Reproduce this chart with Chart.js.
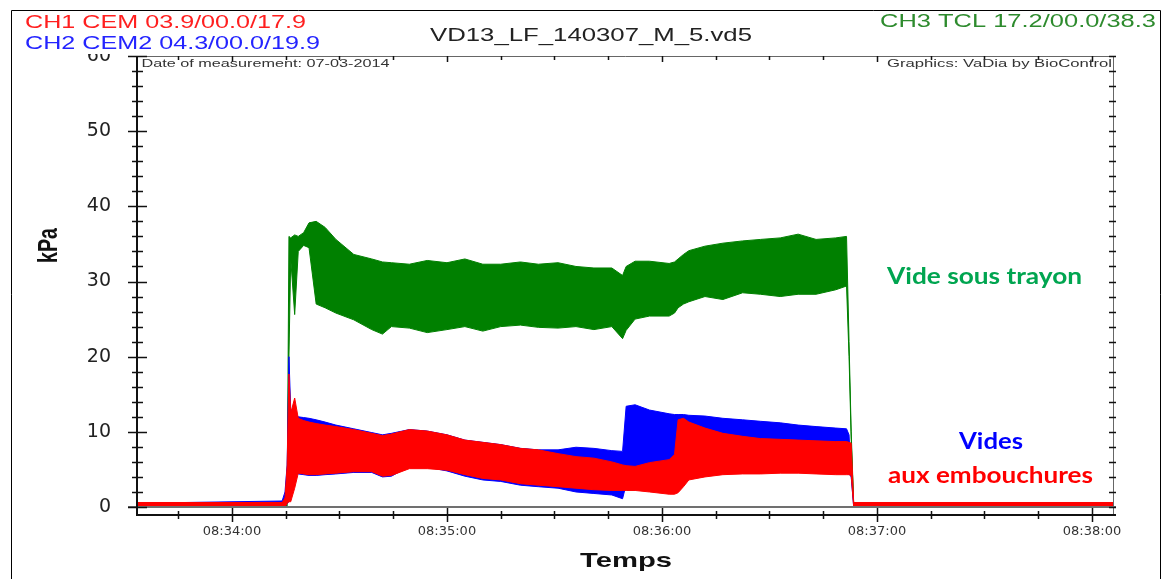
<!DOCTYPE html>
<html>
<head>
<meta charset="utf-8">
<title>VD13_LF_140307_M_5.vd5</title>
<script src="https://cdn.jsdelivr.net/npm/chart.js@4.4.1/dist/chart.umd.min.js"></script>
<style>
  html, body { margin: 0; padding: 0; background: #fff; }
  canvas { display: block; }
</style>
</head>
<body>
<canvas id="chart" width="1174" height="579"></canvas>
<script>
const timeSec = [-26.5, 14.0, 14.8, 15.4, 15.9, 16.4, 17.5, 18.5, 20, 21.5, 23.5, 26, 29, 34, 39, 42, 44.5, 49.5, 54.5, 60,
  65, 70, 75, 80.5, 85.5, 91, 96, 101, 106, 109, 110, 112.5, 116.5, 122, 123.5, 124.5, 126, 127.5, 132, 137,
  142.5, 147.5, 153, 158, 163, 168.5, 171.5, 172.2, 172.8, 173.5, 246]

// CH3 TCL - vide sous trayon
const greenHi = [0.3, 0.3, 0.3, 0.5, 36.0, 35.8, 36.2, 36.0, 36.5, 37.8, 38.0, 37.2, 35.6, 33.6, 33.0, 32.6, 32.5, 32.3, 32.8, 32.5,
  33.0, 32.3, 32.3, 32.6, 32.3, 32.5, 32.0, 31.8, 31.8, 30.8, 32.0, 32.7, 32.7, 32.4, 32.6, 33.0, 33.6, 34.1, 34.7, 35.1,
  35.4, 35.6, 35.8, 36.3, 35.6, 35.8, 36.0, 22.0, 10.0, 0.3, 0.3]
const greenLo = [0.1, 0.1, 0.1, 0.1, 20.0, 33.0, 25.6, 34.0, 34.8, 34.5, 27.0, 26.5, 25.8, 24.9, 23.6, 23.0, 24.0, 23.8, 23.2, 23.6,
  24.0, 23.4, 24.0, 24.2, 23.9, 23.8, 24.0, 23.6, 24.0, 22.4, 23.5, 25.0, 25.4, 25.4, 25.8, 26.5, 27.0, 27.3, 28.0, 27.6,
  28.5, 28.3, 28.0, 28.3, 28.3, 28.9, 29.4, 20.0, 9.0, 0.1, 0.1]

// CH1 CEM
const redHi = [0.6, 0.6, 1.2, 5.5, 17.7, 12.5, 14.5, 11.8, 11.5, 11.3, 11.1, 10.9, 10.7, 10.3, 9.8, 9.5, 9.7, 10.3, 10.1, 9.6,
  8.9, 8.6, 8.3, 7.8, 7.6, 7.1, 6.7, 6.5, 6.0, 5.6, 5.5, 5.4, 5.9, 6.3, 7.0, 11.6, 11.8, 11.3, 10.5, 9.8,
  9.4, 9.1, 9.0, 8.9, 8.8, 8.7, 8.7, 8.6, 8.5, 0.6, 0.6]
const redLo = [0, 0, 0, 0.5, 0.7, 0.7, 2.5, 4.5, 4.4, 4.3, 4.3, 4.4, 4.5, 4.7, 4.7, 4.1, 4.2, 5.1, 5.1, 4.9,
  4.3, 3.8, 3.6, 3.1, 2.9, 2.7, 2.5, 2.3, 2.2, 2.2, 2.2, 2.2, 2.0, 1.7, 1.7, 1.9, 2.7, 3.6, 4.0, 4.3,
  4.4, 4.4, 4.5, 4.5, 4.4, 4.3, 4.3, 4.3, 4.2, 0, 0]

// CH2 CEM2
const blueHi = [0.5, 0.8, 2.0, 5.6, 20.0, 13.0, 12.5, 12.0, 11.9, 11.8, 11.6, 11.3, 10.9, 10.4, 9.9, 9.6, 9.8, 10.3, 10.1, 9.6,
  8.9, 8.6, 8.3, 7.8, 7.6, 7.6, 7.95, 7.8, 7.5, 7.4, 13.4, 13.6, 12.9, 12.4, 12.3, 12.3, 12.3, 12.2, 12.1, 11.8,
  11.6, 11.4, 11.2, 10.9, 10.7, 10.5, 10.4, 9.6, 4.5, 0.5, 0.5]
const blueLo = [0, 0, 0, 0.5, 0.7, 2.0, 4.8, 4.4, 4.3, 4.2, 4.2, 4.3, 4.4, 4.6, 4.6, 4.0, 4.1, 5.4, 5.3, 4.8,
  4.1, 3.6, 3.4, 2.9, 2.7, 2.5, 2.0, 1.8, 1.6, 1.1, 3.0, 3.0, 3.0, 2.5, 2.5, 2.5, 3.0, 3.8, 4.2, 4.5,
  4.6, 4.6, 4.7, 4.7, 4.6, 4.5, 4.5, 4.4, 4.0, 0, 0]

const yTickLabels = ['0', '10', '20', '30', '40', '50', '60']
const xTickLabels = ['08:34:00', '08:35:00', '08:36:00', '08:37:00', '08:38:00']

function pts(values) {
    return timeSec.map((t, i) => ({ x: t, y: values[i] }))
}

function band(values, color, fill) {
    return {
        data: pts(values),
        borderColor: color,
        backgroundColor: color,
        borderWidth: 1,
        pointRadius: 0,
        tension: 0,
        fill: fill
    }
}

// texte étiré horizontalement (la capture d'origine est élargie)
function stretchText(ctx, text, x, y, width, font, color) {
    ctx.save()
    ctx.font = font
    ctx.fillStyle = color
    ctx.textAlign = 'left'
    ctx.textBaseline = 'alphabetic'
    const w = ctx.measureText(text).width
    ctx.translate(x, y)
    ctx.scale(width / w, 1)
    ctx.fillText(text, 0, 0)
    ctx.restore()
}

const framePlugin = {
    id: 'frame',
    afterDraw(chart) {
        const ctx = chart.ctx
        const xs = chart.scales.x
        const ys = chart.scales.y
        const a = chart.chartArea
        ctx.save()

        // le bandeau du haut cache le "60"
        ctx.fillStyle = '#fff'
        ctx.fillRect(12, 11, 124, 43)

        // cadre extérieur
        ctx.strokeStyle = '#000'
        ctx.lineWidth = 1
        ctx.beginPath()
        ctx.moveTo(11.5, 579)
        ctx.lineTo(11.5, 10.5)
        ctx.lineTo(1160.5, 10.5)
        ctx.lineTo(1160.5, 579)
        ctx.stroke()

        // cadre du graphique
        ctx.strokeStyle = '#666'
        ctx.beginPath()
        ctx.moveTo(a.left, a.top + 0.5)
        ctx.lineTo(a.right + 0.5, a.top + 0.5)
        ctx.lineTo(a.right + 0.5, 516)
        ctx.stroke()

        // ligne du zéro
        const y0 = ys.getPixelForValue(0)
        ctx.strokeStyle = '#707070'
        ctx.lineWidth = 2
        ctx.beginPath()
        ctx.moveTo(128, y0)
        ctx.lineTo(a.right + 3, y0)
        ctx.stroke()

        // axes
        ctx.strokeStyle = '#111'
        ctx.lineWidth = 2
        ctx.beginPath()
        ctx.moveTo(a.left, a.top)
        ctx.lineTo(a.left, 516)
        ctx.moveTo(a.left, 515)
        ctx.lineTo(a.right + 3, 515)
        ctx.stroke()

        ctx.lineWidth = 1.5
        ctx.beginPath()
        ys.ticks.forEach((t) => {
            const y = Math.round(ys.getPixelForValue(t.value)) + 0.5
            const major = t.value % 10 === 0
            ctx.moveTo(a.left - (major ? 9 : 5), y)
            ctx.lineTo(a.left + (major ? 10 : 6), y)
            ctx.moveTo(a.right - 4, y)
            ctx.lineTo(a.right + 3, y)
        })
        xs.ticks.forEach((t) => {
            if (t.value % 15 !== 0) return
            const x = Math.round(xs.getPixelForValue(t.value)) + 0.5
            const major = t.value % 60 === 0
            ctx.moveTo(x, major ? 508 : 511)
            ctx.lineTo(x, major ? 522 : 519)
            ctx.moveTo(x, a.top)
            ctx.lineTo(x, a.top + (major ? 6 : 4))
        })
        ctx.stroke()

        // textes
        stretchText(ctx, 'CH1 CEM 03.9/00.0/17.9', 25, 28, 281, '18px "Liberation Sans"', '#ff1f1f')
        stretchText(ctx, 'CH2 CEM2 04.3/00.0/19.9', 25, 49, 295, '18px "Liberation Sans"', '#2424ff')
        stretchText(ctx, 'CH3 TCL 17.2/00.0/38.3', 880, 27, 276, '18px "Liberation Sans"', '#2e8b2e')
        stretchText(ctx, 'VD13_LF_140307_M_5.vd5', 430, 41, 322, '18px "Liberation Sans"', '#222')
        stretchText(ctx, 'Date of measurement: 07-03-2014', 141.5, 66.5, 248, '11px "Liberation Sans"', '#333')
        stretchText(ctx, 'Graphics: VaDia by BioControl', 887, 66.5, 225, '11px "Liberation Sans"', '#333')
        stretchText(ctx, 'Temps', 580, 566.5, 92, 'bold 21px "Liberation Sans"', '#111')
        stretchText(ctx, 'Vide sous trayon', 887, 284, 195, 'bold 23px Lato', '#00a550')
        stretchText(ctx, 'Vides', 959, 448.5, 64, 'bold 23px Lato', '#0000ff')
        stretchText(ctx, 'aux embouchures', 888, 482.5, 205, 'bold 23px Lato', '#ff0000')

        // kPa, vertical
        ctx.font = 'bold 20px "Liberation Sans"'
        ctx.fillStyle = '#111'
        const w = ctx.measureText('kPa').width
        ctx.translate(57, 263)
        ctx.rotate(-Math.PI / 2)
        ctx.scale(35 / w, 1.4)
        ctx.fillText('kPa', 0, 0)
        ctx.restore()
    }
}

document.addEventListener('DOMContentLoaded', function() {

    const datasets = [
        band(redHi, '#ff0000', '+1'),
        band(redLo, '#ff0000', false),
        band(blueHi, '#0000ff', '+1'),
        band(blueLo, '#0000ff', false),
        band(greenHi, '#008000', '+1'),
        band(greenLo, '#008000', false)
    ]

    const options = {
        responsive: false,
        animation: false,
        events: [],
        layout: { padding: { left: 0, top: 56, right: 61, bottom: 0 } },
        plugins: {
            legend: { display: false },
            tooltip: { enabled: false }
        },
        scales: {
            x: {
                type: 'linear',
                min: -26.5,
                max: 245.86,
                grid: { display: false, drawTicks: false },
                border: { display: false },
                afterFit: (s) => { s.height = 72 },
                ticks: {
                    stepSize: 15,
                    includeBounds: false,
                    autoSkip: false,
                    maxRotation: 0,
                    padding: 17,
                    color: '#333',
                    font: { family: 'DejaVu Sans', size: 13 },
                    callback: (v) => (v % 60 === 0 ? xTickLabels[v / 60] : '')
                }
            },
            y: {
                min: 0,
                max: 60,
                grid: { display: false, drawTicks: false },
                border: { display: false },
                afterFit: (s) => { s.width = 137 },
                ticks: {
                    stepSize: 2,
                    autoSkip: false,
                    padding: 26,
                    color: '#222',
                    font: { family: 'DejaVu Sans', size: 19 },
                    callback: (v) => (v % 10 === 0 ? yTickLabels[v / 10] : '')
                }
            }
        }
    }

    const ctx = document.getElementById('chart').getContext('2d')
    const myChart = new Chart(ctx, { type: 'line', data: { datasets: datasets }, options: options, plugins: [framePlugin] })
})
</script>
</body>
</html>
